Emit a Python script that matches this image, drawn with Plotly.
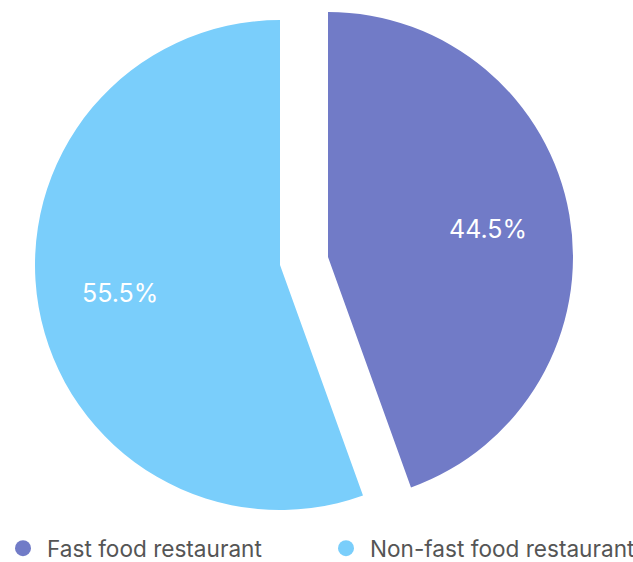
import math
import plotly.graph_objects as go

labels = ["Fast food restaurant", "Non-fast food restaurant"]
values = [44.5, 55.5]
colors = ["#717BC7", "#7ACEFB"]

W, H = 633, 562
FONT = "Inter"
R = 245  # pie radius in px
LABEL_R = 0.665  # label distance as fraction of radius

# pie domains (pixels from left / top) for the two pieces
doms = [
    dict(x=[83, 573], y=[12, 502]),   # fast food (pulled out)
    dict(x=[35, 525], y=[20, 510]),   # non-fast food
]

fig = go.Figure()

total = sum(values)
start = 0.0
annotations = []
for i, (lab, val, col) in enumerate(zip(labels, values, colors)):
    cols = ["rgba(0,0,0,0)"] * len(values)
    cols[i] = col
    d = doms[i]
    fig.add_trace(go.Pie(
        labels=labels, values=values, sort=False, direction="clockwise", rotation=0,
        marker=dict(colors=cols, line=dict(width=0)),
        textinfo="none",
        domain=dict(x=[d["x"][0] / W, d["x"][1] / W],
                    y=[1 - d["y"][1] / H, 1 - d["y"][0] / H]),
        showlegend=False, hoverinfo="label+percent",
    ))
    # label position at middle angle of slice
    frac = val / total
    mid = (start + frac / 2) * 2 * math.pi
    start += frac
    cx = (d["x"][0] + d["x"][1]) / 2
    cy = (d["y"][0] + d["y"][1]) / 2
    px = cx + LABEL_R * R * math.sin(mid)
    py = cy - LABEL_R * R * math.cos(mid)
    annotations.append(dict(
        x=px / W, y=1 - py / H, xref="paper", yref="paper",
        text=f"{frac * 100:.1f}%", showarrow=False,
        font=dict(color="white", size=25, family=FONT),
        xanchor="center", yanchor="middle",
    ))

# Legend entries with circle markers (one legend per entry for exact placement)
legend_ids = ["legend", "legend2"]
for lab, col, lid in zip(labels, colors, legend_ids):
    fig.add_trace(go.Scatter(
        x=[None], y=[None], mode="markers", name=lab,
        marker=dict(symbol="circle", size=16, color=col),
        showlegend=True, hoverinfo="skip", legend=lid,
    ))

leg_common = dict(
    orientation="h", xanchor="left", y=-8 / H, yanchor="bottom",
    bgcolor="rgba(0,0,0,0)",
    font=dict(size=22.6, color="#555555", family=FONT),
    itemsizing="trace", itemwidth=38,
)

fig.update_layout(
    width=W, height=H,
    margin=dict(l=0, r=0, t=0, b=0, autoexpand=False),
    paper_bgcolor="white", plot_bgcolor="white",
    xaxis=dict(visible=False), yaxis=dict(visible=False),
    font=dict(family=FONT),
    annotations=annotations,
    legend=dict(x=-1 / W, **leg_common),
    legend2=dict(x=322 / W, **leg_common),
)

fig.write_html("out.html")
